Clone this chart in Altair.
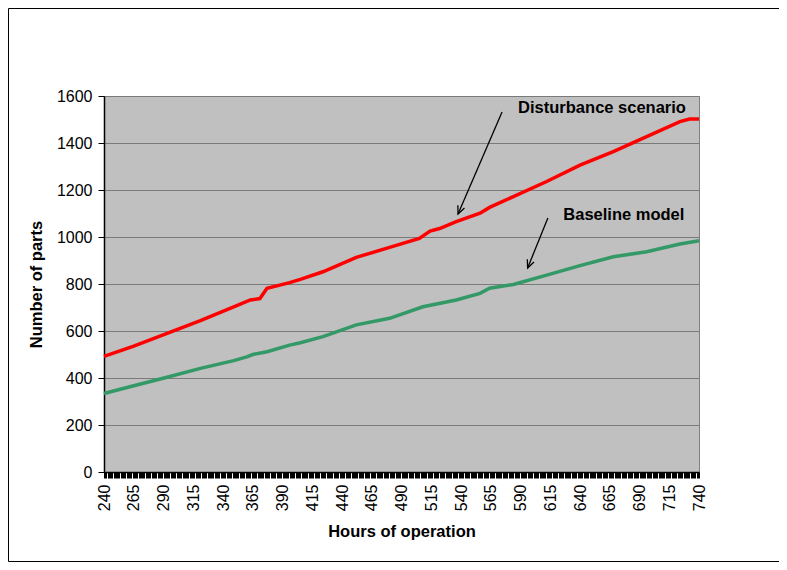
import altair as alt
import pandas as pd

# Disturbance scenario (red)
hours_red = [240, 265, 293, 321, 349, 363, 371, 377, 396, 405, 424, 452, 480, 505, 514,
             522, 536, 556, 564, 584, 612, 640, 668, 696, 724, 732, 740]
parts_red = [492, 536, 590, 644, 703, 732, 738, 782, 806, 820, 852, 913, 956, 994, 1025,
             1036, 1065, 1101, 1126, 1172, 1236, 1306, 1363, 1427, 1491, 1502, 1502]

# Baseline model (green)
hours_green = [240, 265, 293, 321, 349, 360, 365, 377, 396, 405, 424, 452, 480, 508, 536,
               556, 564, 584, 612, 640, 668, 696, 724, 740]
parts_green = [334, 367, 403, 441, 474, 490, 500, 512, 540, 550, 576, 626, 654, 703, 732,
               760, 782, 798, 838, 878, 916, 937, 970, 984]

series_names = ["Disturbance scenario", "Baseline model"]
series_colors = ["#FF0000", "#339966"]

x_ticks = list(range(240, 741))
y_ticks = list(range(0, 1601, 200))

# annotations (data coordinates)
ann_labels = ["Disturbance scenario", "Baseline model"]
ann_text_hour = [588, 626]
ann_text_parts = [1549, 1094]
arrow_start_hour = [574.5, 613]
arrow_start_parts = [1532, 1081]
arrow_end_hour = [537.5, 596]
arrow_end_parts = [1098, 868]
arrow_angle = [23, 22]

FONT = "Liberation Sans"

df = pd.concat([
    pd.DataFrame({"hour": hours_red, "parts": parts_red, "series": series_names[0]}),
    pd.DataFrame({"hour": hours_green, "parts": parts_green, "series": series_names[1]}),
])

ann = pd.DataFrame({
    "label": ann_labels,
    "th": ann_text_hour, "tp": ann_text_parts,
    "h1": arrow_start_hour, "p1": arrow_start_parts,
    "h2": arrow_end_hour, "p2": arrow_end_parts,
    "angle": arrow_angle,
})

x_scale = alt.Scale(domain=[240, 740], nice=False, zero=False)
y_scale = alt.Scale(domain=[0, 1600], nice=False)

frame = alt.Chart(pd.DataFrame({"a": [0]})).mark_rect(
    fill=None, stroke="black", strokeWidth=1
).encode(
    x=alt.value(-95.5), x2=alt.value(720), y=alt.value(-87.5), y2=alt.value(465.5)
)

lines = alt.Chart(df).mark_line(strokeWidth=3.5).encode(
    x=alt.X("hour:Q", scale=x_scale, title="Hours of operation",
            axis=alt.Axis(values=x_ticks, tickCount=2000,
                          labelExpr="(datum.value - 240) % 25 == 0 ? datum.label : ''",
                          labelAngle=270, labelOverlap=False, labelFlush=False,
                          labelFontSize=16, labelFont=FONT, labelColor="black",
                          labelPadding=6, tickSize=6, tickColor="black", tickWidth=1,
                          domainColor="black", domainWidth=1.5, grid=False, format="d",
                          titleFont=FONT, titleFontSize=16.5, titleFontWeight="bold",
                          titleColor="black", titlePadding=13)),
    y=alt.Y("parts:Q", scale=y_scale, title="Number of parts",
            axis=alt.Axis(values=y_ticks, labelFontSize=16, labelFont=FONT, labelColor="black",
                          labelPadding=6, tickSize=6, tickColor="black", format="d",
                          domainColor="black", domainWidth=1.5,
                          grid=True, gridColor="#7A7A7A", gridWidth=1,
                          titleFont=FONT, titleFontSize=16.5, titleFontWeight="bold",
                          titleColor="black", titlePadding=12)),
    color=alt.Color("series:N", scale=alt.Scale(domain=series_names, range=series_colors),
                    legend=None),
    detail="series:N",
)

arrows = alt.Chart(ann).mark_rule(color="black", strokeWidth=1.3).encode(
    x=alt.X("h1:Q", scale=x_scale), y=alt.Y("p1:Q", scale=y_scale),
    x2="h2:Q", y2="p2:Q",
)

heads = alt.Chart(ann).mark_point(
    shape="M-0.45,-1L0,0L0.45,-1", filled=False, stroke="black", strokeWidth=1.3,
    size=256, opacity=1
).encode(
    x=alt.X("h2:Q", scale=x_scale), y=alt.Y("p2:Q", scale=y_scale),
    angle=alt.Angle("angle:Q", scale=None),
)

texts = alt.Chart(ann).mark_text(
    align="left", baseline="middle", font=FONT, fontSize=16.5, fontWeight="bold", color="black"
).encode(
    x=alt.X("th:Q", scale=x_scale), y=alt.Y("tp:Q", scale=y_scale), text="label:N",
)

chart = alt.layer(frame, lines, arrows, heads, texts).properties(
    width=595, height=376,
    autosize=alt.AutoSizeParams(type="none"),
    padding={"left": 96, "top": 88, "right": 80, "bottom": 90},
    background="white",
).configure_view(
    fill="#C0C0C0", stroke="#808080", strokeWidth=1
)

chart.save("out.html", embed_options={"renderer": "svg", "actions": False})
